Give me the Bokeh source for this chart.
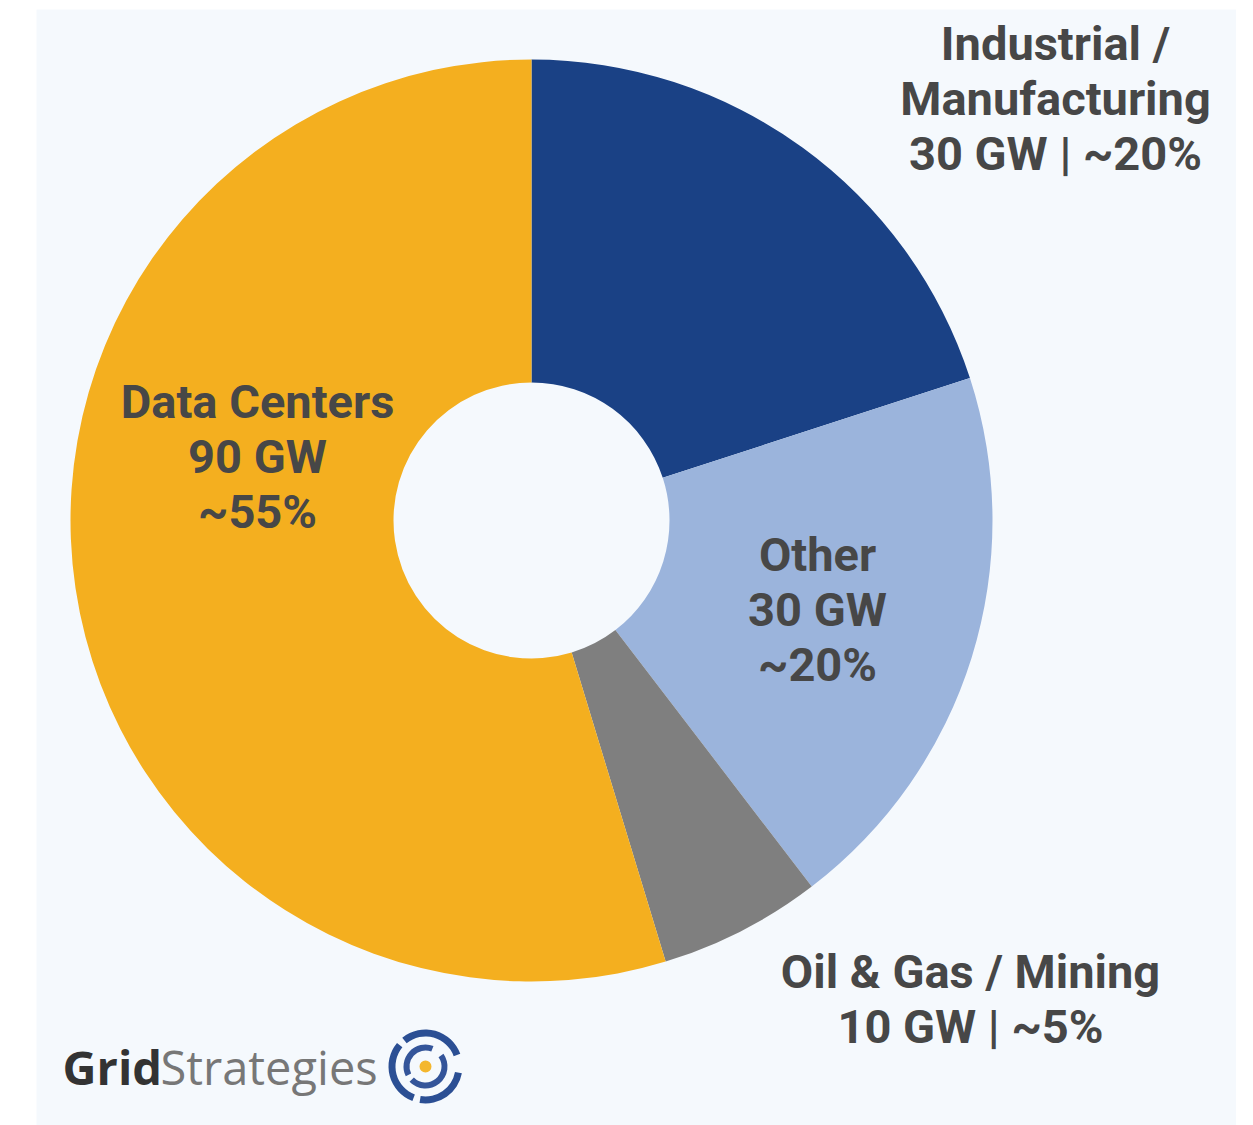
import numpy as np
from bokeh.plotting import figure
from bokeh.models import ColumnDataSource, Range1d
from bokeh.core.properties import value
from bokeh.embed import file_html
from bokeh.resources import INLINE

# ---- data ----
categories = ["Industrial / Manufacturing", "Other", "Oil & Gas / Mining", "Data Centers"]
gw = [30, 30, 10, 90]
share_pct = [20.0, 19.6, 5.7, 54.7]          # slice sizes as drawn
approx_pct = ["~20%", "~20%", "~5%", "~55%"]  # label text
colors = ["#1a4185", "#9bb4dc", "#7f7f7f", "#f4af1f"]

label_text = [
    "Industrial /\nManufacturing\n%d GW | %s" % (gw[0], approx_pct[0]),
    "Other\n%d GW\n%s" % (gw[1], approx_pct[1]),
    "Oil & Gas / Mining\n%d GW | %s" % (gw[2], approx_pct[2]),
    "Data Centers\n%d GW\n%s" % (gw[3], approx_pct[3]),
]

# ---- layout (pixel-space, y measured from top of page) ----
PAGE_H = 1125
W_FRAME, H_FRAME = 1200, 1116
X0, Y0 = 36, 9
cx, cy = 531, 520
r_out, r_in = 461, 138
label_pos = [(1055, 98), (817, 609), (970, 998), (257, 456)]

def Y(py):
    return PAGE_H - py

# angles: start at 12 o'clock, go clockwise
sh = np.array(share_pct, dtype=float)
frac = sh / sh.sum()
cum = np.concatenate([[0], np.cumsum(frac)])
a_hi = np.pi / 2 - cum[:-1] * 2 * np.pi
a_lo = np.pi / 2 - cum[1:] * 2 * np.pi

src = ColumnDataSource(dict(
    x=[cx] * len(categories), y=[Y(cy)] * len(categories),
    start=a_lo, end=a_hi, color=colors, cat=categories,
))

p = figure(width=X0 + W_FRAME, height=Y0 + H_FRAME,
           x_range=Range1d(X0, X0 + W_FRAME), y_range=Range1d(0, Y(Y0)),
           output_backend="svg", toolbar_location=None,
           min_border_left=X0, min_border_right=0, min_border_top=Y0, min_border_bottom=0)
p.axis.visible = False
p.grid.visible = False
p.outline_line_color = None
p.background_fill_color = "#f5f9fd"
p.border_fill_color = "#ffffff"

p.annular_wedge(x="x", y="y", inner_radius=r_in, outer_radius=r_out,
                start_angle="start", end_angle="end", fill_color="color",
                line_color=None, source=src)

lsrc = ColumnDataSource(dict(
    x=[lp[0] for lp in label_pos], y=[Y(lp[1]) for lp in label_pos], t=label_text))
p.text(x="x", y="y", text="t", source=lsrc, text_font=value("Roboto"),
       text_font_style="bold", text_font_size="47px", text_color="#474747",
       text_align="center", text_baseline="middle", text_line_height=1.0)

# ---- logo ----
p.text(x=[62], y=[Y(1066)], text=["Grid"], text_font=value("Open Sans"),
       text_font_style="bold", text_font_size="47px", text_color="#333333",
       text_align="left", text_baseline="middle")
p.text(x=[160], y=[Y(1066)], text=["Strategies"], text_font=value("Open Sans"),
       text_font_size="47px", text_color="#777777",
       text_align="left", text_baseline="middle")
lx, ly = 425, Y(1066)
p.annular_wedge(x=[lx] * 3, y=[ly] * 3, inner_radius=30, outer_radius=37,
                start_angle=[0.35, 2.45, 4.55], end_angle=[2.25, 4.35, 6.1],
                fill_color="#2b4f94", line_color=None)
p.annular_wedge(x=[lx] * 2, y=[ly] * 2, inner_radius=16, outer_radius=22,
                start_angle=[1.2, 3.9], end_angle=[3.6, 6.9],
                fill_color="#34559a", line_color=None)
p.scatter(x=[lx], y=[ly], size=12, fill_color="#f4b72e", line_color=None)

open("out.html", "w").write(file_html(p, INLINE))
